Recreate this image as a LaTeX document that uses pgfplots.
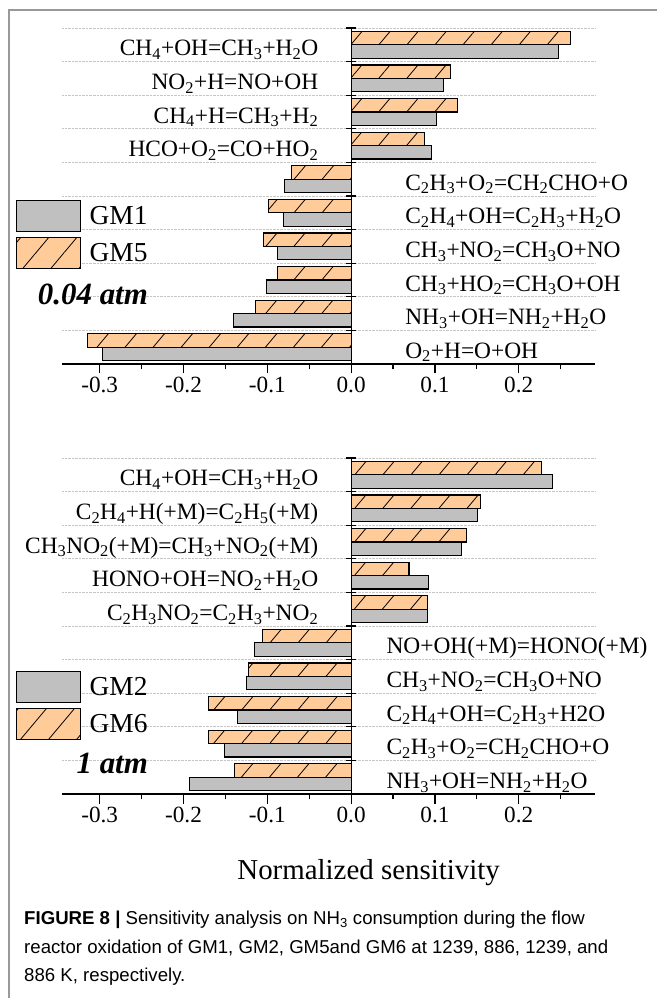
\documentclass[border=0pt]{standalone}
\usepackage{fontspec}
\setmainfont{Liberation Serif}
\newfontfamily\capfont{Liberation Sans}
\usepackage{pgfplots}
\pgfplotsset{compat=1.18}
\usetikzlibrary{patterns.meta}
\definecolor{bargray}{RGB}{192,192,192}
\definecolor{barorange}{RGB}{255,204,153}
\newcommand{\s}[1]{\textsubscript{#1}}
\tikzset{lab/.style={font=\fontsize{23.5}{24}\selectfont, inner sep=0pt}}
\pgfplotsset{
 sensaxis/.style={
   scale only axis, width=533bp, height=336bp,
   xmin=-0.345, xmax=0.291, ymin=0.5, ymax=10.5,
   axis x line=bottom, axis y line=center,
   axis line style={-, line width=1.2bp, black},
   xtick={-0.3,-0.2,-0.1,0,0.1,0.2},
   xticklabels={-0.3,-0.2,-0.1,0.0,0.1,0.2},
   minor xtick={-0.25,-0.15,-0.05,0.05,0.15,0.25},
   ytick={0.5,1.5,...,10.5}, yticklabels={},
   xtick align=outside, ytick align=center,
   major tick length=9.5bp, minor tick length=5.5bp,
   tick style={line width=1.2bp, black},
   ymajorgrids, grid style={densely dotted, gray!45, line width=0.6bp},
   ticklabel style={font=\fontsize{23.3}{23.3}\selectfont},
   bar width=0.4,
   clip=false,
   legend cell align=left,
   legend style={draw=none, fill=none, inner sep=0pt, outer sep=0pt, anchor=north west,
     row sep=5bp, column sep=9bp, font=\fontsize{27.5}{28}\selectfont, nodes={inner sep=0pt}},
 },
 graybar/.style={xbar, bar shift=-0.2, fill=bargray, draw=black, line width=1.1bp,
   legend image code/.code={\draw[##1,bar shift=0pt] (0bp,-15.5bp) rectangle (64bp,15.5bp);}},
 orbar/.style={xbar, bar shift=0.2, fill=barorange, draw=black, line width=1.1bp,
   postaction={pattern={Lines[angle=50,distance=21.5bp,line width=0.8bp]}, pattern color=black},
   legend image code/.code={\draw[##1,bar shift=0pt] (0bp,-15.5bp) rectangle (64bp,15.5bp);}},
}
\begin{document}
\begin{tikzpicture}
\useasboundingbox (0,0) rectangle (657bp,998bp);
\draw[gray!80, line width=1.2bp] (9bp,0) -- (9bp,988bp) -- (657bp,988bp);
% top panel
\begin{axis}[sensaxis, at={(62bp,634bp)}, anchor=south west,
  legend style={at={(-0.0872,0.488)}}]
\addplot[graybar] coordinates {(0.247,10) (0.110,9) (0.102,8) (0.096,7) (-0.079,6) (-0.081,5) (-0.088,4) (-0.101,3) (-0.140,2) (-0.297,1)};
\addplot[orbar] coordinates {(0.262,10) (0.119,9) (0.127,8) (0.088,7) (-0.071,6) (-0.099,5) (-0.105,4) (-0.088,3) (-0.114,2) (-0.315,1)};
\legend{GM1,GM5}
\node[lab, anchor=base east] at (axis cs:-0.039,9.67) {CH\s4+OH=CH\s3+H\s2O};
\node[lab, anchor=base east] at (axis cs:-0.039,8.67) {NO\s2+H=NO+OH};
\node[lab, anchor=base east] at (axis cs:-0.039,7.67) {CH\s4+H=CH\s3+H\s2};
\node[lab, anchor=base east] at (axis cs:-0.039,6.67) {HCO+O\s2=CO+HO\s2};
\node[lab, anchor=base west] at (axis cs:0.0644,5.67) {C\s2H\s3+O\s2=CH\s2CHO+O};
\node[lab, anchor=base west] at (axis cs:0.0644,4.67) {C\s2H\s4+OH=C\s2H\s3+H\s2O};
\node[lab, anchor=base west] at (axis cs:0.0644,3.67) {CH\s3+NO\s2=CH\s3O+NO};
\node[lab, anchor=base west] at (axis cs:0.0644,2.67) {CH\s3+HO\s2=CH\s3O+OH};
\node[lab, anchor=base west] at (axis cs:0.0644,1.67) {NH\s3+OH=NH\s2+H\s2O};
\node[lab, anchor=base west] at (axis cs:0.0644,0.67) {O\s2+H=O+OH};
\end{axis}
\node[anchor=base east, inner sep=0pt, font=\fontsize{31}{31}\selectfont\bfseries\itshape] at (148bp,693bp) {0.04 atm};
% bottom panel
\begin{axis}[sensaxis, at={(62bp,204bp)}, anchor=south west,
  legend style={at={(-0.0872,0.367)}}]
\addplot[graybar] coordinates {(0.240,10) (0.151,9) (0.132,8) (0.092,7) (0.091,6) (-0.115,5) (-0.125,4) (-0.136,3) (-0.151,2) (-0.193,1)};
\addplot[orbar] coordinates {(0.227,10) (0.154,9) (0.138,8) (0.069,7) (0.091,6) (-0.106,5) (-0.122,4) (-0.170,3) (-0.170,2) (-0.139,1)};
\legend{GM2,GM6}
\node[lab, anchor=base east] at (axis cs:-0.039,9.67) {CH\s4+OH=CH\s3+H\s2O};
\node[lab, anchor=base east] at (axis cs:-0.039,8.67) {C\s2H\s4+H(+M)=C\s2H\s5(+M)};
\node[lab, anchor=base east] at (axis cs:-0.039,7.67) {CH\s3NO\s2(+M)=CH\s3+NO\s2(+M)};
\node[lab, anchor=base east] at (axis cs:-0.039,6.67) {HONO+OH=NO\s2+H\s2O};
\node[lab, anchor=base east] at (axis cs:-0.039,5.67) {C\s2H\s3NO\s2=C\s2H\s3+NO\s2};
\node[lab, anchor=base west] at (axis cs:0.042,4.67) {NO+OH(+M)=HONO(+M)};
\node[lab, anchor=base west] at (axis cs:0.042,3.67) {CH\s3+NO\s2=CH\s3O+NO};
\node[lab, anchor=base west] at (axis cs:0.042,2.67) {C\s2H\s4+OH=C\s2H\s3+H2O};
\node[lab, anchor=base west] at (axis cs:0.042,1.67) {C\s2H\s3+O\s2=CH\s2CHO+O};
\node[lab, anchor=base west] at (axis cs:0.042,0.67) {NH\s3+OH=NH\s2+H\s2O};
\end{axis}
\node[anchor=base east, inner sep=0pt, font=\fontsize{31}{31}\selectfont\bfseries\itshape] at (148bp,224bp) {1 atm};
\node[anchor=center, inner sep=0pt, font=\fontsize{29}{29}\selectfont] at (368.6bp,125bp) {Normalized sensitivity};
\begin{scope}[every node/.style={anchor=base west, inner sep=0pt, font=\capfont\fontsize{18.7}{19}\selectfont}]
\node at (24bp,73.5bp) {\textbf{FIGURE 8 |} Sensitivity analysis on NH\s3 consumption during the flow};
\node at (24bp,44bp) {reactor oxidation of GM1, GM2, GM5and GM6 at 1239, 886, 1239, and};
\node at (24bp,16.5bp) {886 K, respectively.};
\end{scope}
\end{tikzpicture}
\end{document}
